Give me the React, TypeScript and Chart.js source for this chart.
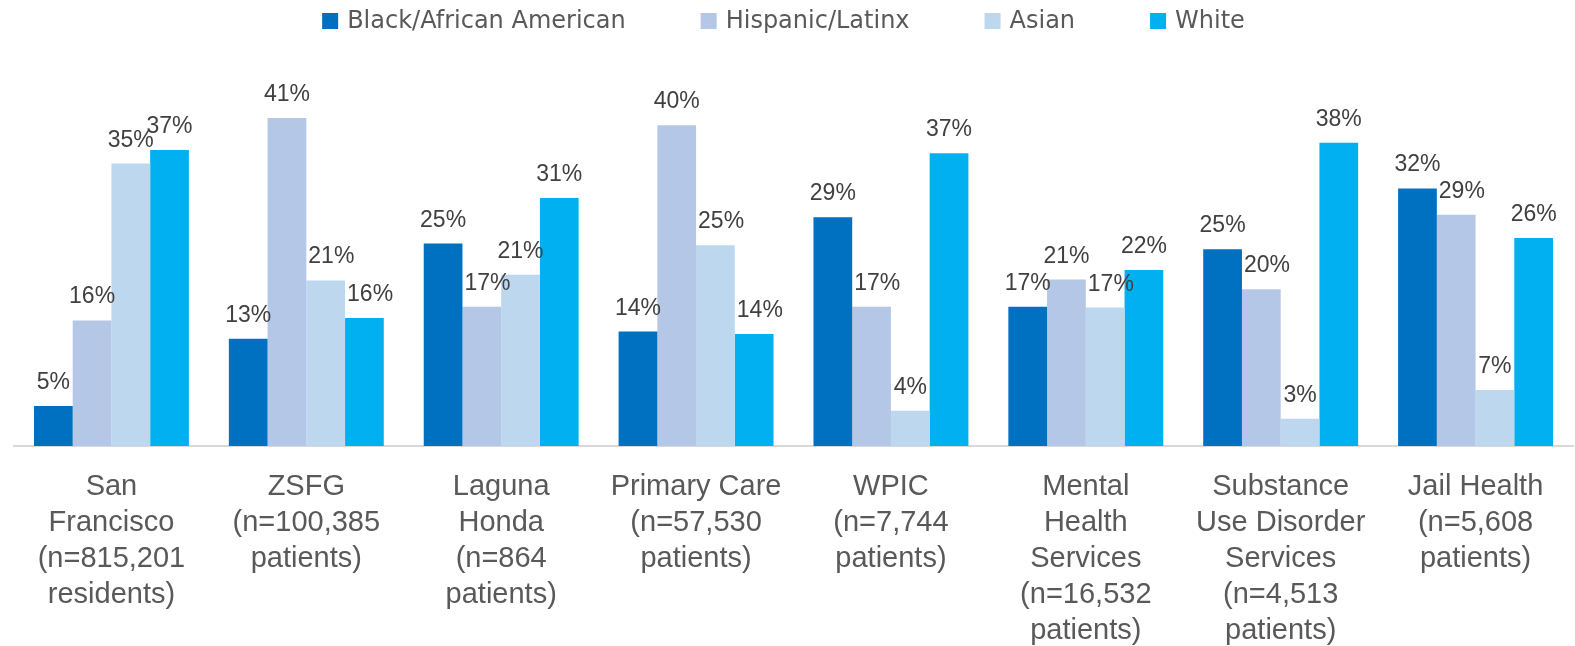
import React, { useEffect, useRef } from "react";
import { Chart, registerables } from "chart.js";

Chart.register(...registerables);

const categories: string[][] = [
  ["San", "Francisco", "(n=815,201", "residents)"],
  ["ZSFG", "(n=100,385", "patients)"],
  ["Laguna", "Honda", "(n=864", "patients)"],
  ["Primary Care", "(n=57,530", "patients)"],
  ["WPIC", "(n=7,744", "patients)"],
  ["Mental", "Health", "Services", "(n=16,532", "patients)"],
  ["Substance", "Use Disorder", "Services", "(n=4,513", "patients)"],
  ["Jail Health", "(n=5,608", "patients)"],
];

const seriesNames = ["Black/African American", "Hispanic/Latinx", "Asian", "White"];
const seriesColors = ["#0070C0", "#B4C7E7", "#BDD7EE", "#00B0F0"];

const blackValues = [5, 13.4, 25.3, 14.3, 28.6, 17.4, 24.6, 32.2];
const hispanicValues = [15.7, 41, 17.4, 40.1, 17.4, 20.8, 19.6, 28.9];
const asianValues = [35.3, 20.7, 21.4, 25.1, 4.4, 17.3, 3.4, 7];
const whiteValues = [37, 16, 31, 14, 36.6, 22, 37.9, 26];

const yMax = 45;

const legendPlugin = {
  id: "topLegend",
  afterDraw(chart: any) {
    const ctx = chart.ctx;
    ctx.save();
    ctx.font = '24px "DejaVu Sans"';
    const box = 16;
    const boxGap = 9;
    const itemGap = 75;
    const widths = seriesNames.map((n) => ctx.measureText(n).width);
    const total =
      widths.reduce((a, b) => a + b, 0) + seriesNames.length * (box + boxGap) + (seriesNames.length - 1) * itemGap;
    let x = chart.width / 2 - total / 2 - 4;
    const cy = 21;
    seriesNames.forEach((name, i) => {
      ctx.fillStyle = seriesColors[i];
      ctx.fillRect(x, cy - box / 2, box, box);
      x += box + boxGap;
      ctx.fillStyle = "#595959";
      ctx.textAlign = "left";
      ctx.textBaseline = "middle";
      ctx.fillText(name, x, cy + 1);
      x += widths[i] + itemGap;
    });
    ctx.restore();
  },
};

const dataLabelPlugin = {
  id: "barValueLabels",
  afterDatasetsDraw(chart: any) {
    const ctx = chart.ctx;
    ctx.save();
    ctx.font = '23px "Liberation Sans"';
    ctx.fillStyle = "#404040";
    ctx.textAlign = "center";
    ctx.textBaseline = "alphabetic";
    const metas = chart.data.datasets.map((_: any, di: number) => chart.getDatasetMeta(di));
    chart.data.datasets.forEach((ds: any, di: number) => {
      metas[di].data.forEach((el: any, i: number) => {
        const v = ds.data[i];
        const text = Math.round(v) + "%";
        const w = ctx.measureText(text).width;
        const baseY = el.y - 17;
        let x = el.x;
        // move right to clear a taller bar on the left
        if (di > 0) {
          const prev = metas[di - 1].data[i];
          const prevRight = prev.x + prev.width / 2;
          if (prev.y < baseY && x - w / 2 < prevRight + 2) x = prevRight + 2 + w / 2;
        }
        ctx.fillText(text, x, baseY);
      });
    });
    ctx.restore();
  },
};

export default function App() {
  const canvasRef = useRef<HTMLCanvasElement | null>(null);

  useEffect(() => {
    const canvas = canvasRef.current;
    if (!canvas) return;
    const valueSets = [blackValues, hispanicValues, asianValues, whiteValues];
    const chart = new Chart(canvas, {
      type: "bar",
      data: {
        labels: categories,
        datasets: seriesNames.map((name, i) => ({
          label: name,
          data: valueSets[i],
          backgroundColor: seriesColors[i],
          borderWidth: 0,
          categoryPercentage: 0.795,
          barPercentage: 1,
        })),
      },
      options: {
        responsive: false,
        animation: false,
        layout: { padding: { top: 446 - yMax * 8, left: 14, right: 2, bottom: 0 } },
        plugins: {
          legend: { display: false },
          tooltip: { enabled: false },
          title: { display: false },
        },
        scales: {
          x: {
            grid: { display: false },
            border: { display: true, color: "#D9D9D9", width: 2 },
            ticks: {
              color: "#595959",
              font: { family: '"Liberation Sans"', size: 29, lineHeight: 36 / 29 },
              padding: 15,
              maxRotation: 0,
              autoSkip: false,
            },
            afterFit: (scale: any) => {
              scale.height = 200;
            },
          },
          y: {
            display: false,
            min: 0,
            max: yMax,
          },
        },
      },
      plugins: [legendPlugin, dataLabelPlugin],
    });
    return () => chart.destroy();
  }, []);

  return (
    <div style={{ position: "fixed", left: 0, top: 0, width: 1575, height: 646, overflow: "hidden", background: "#fff" }}>
      <canvas ref={canvasRef} width={1575} height={646} style={{ width: 1575, height: 646, display: "block" }} />
    </div>
  );
}
